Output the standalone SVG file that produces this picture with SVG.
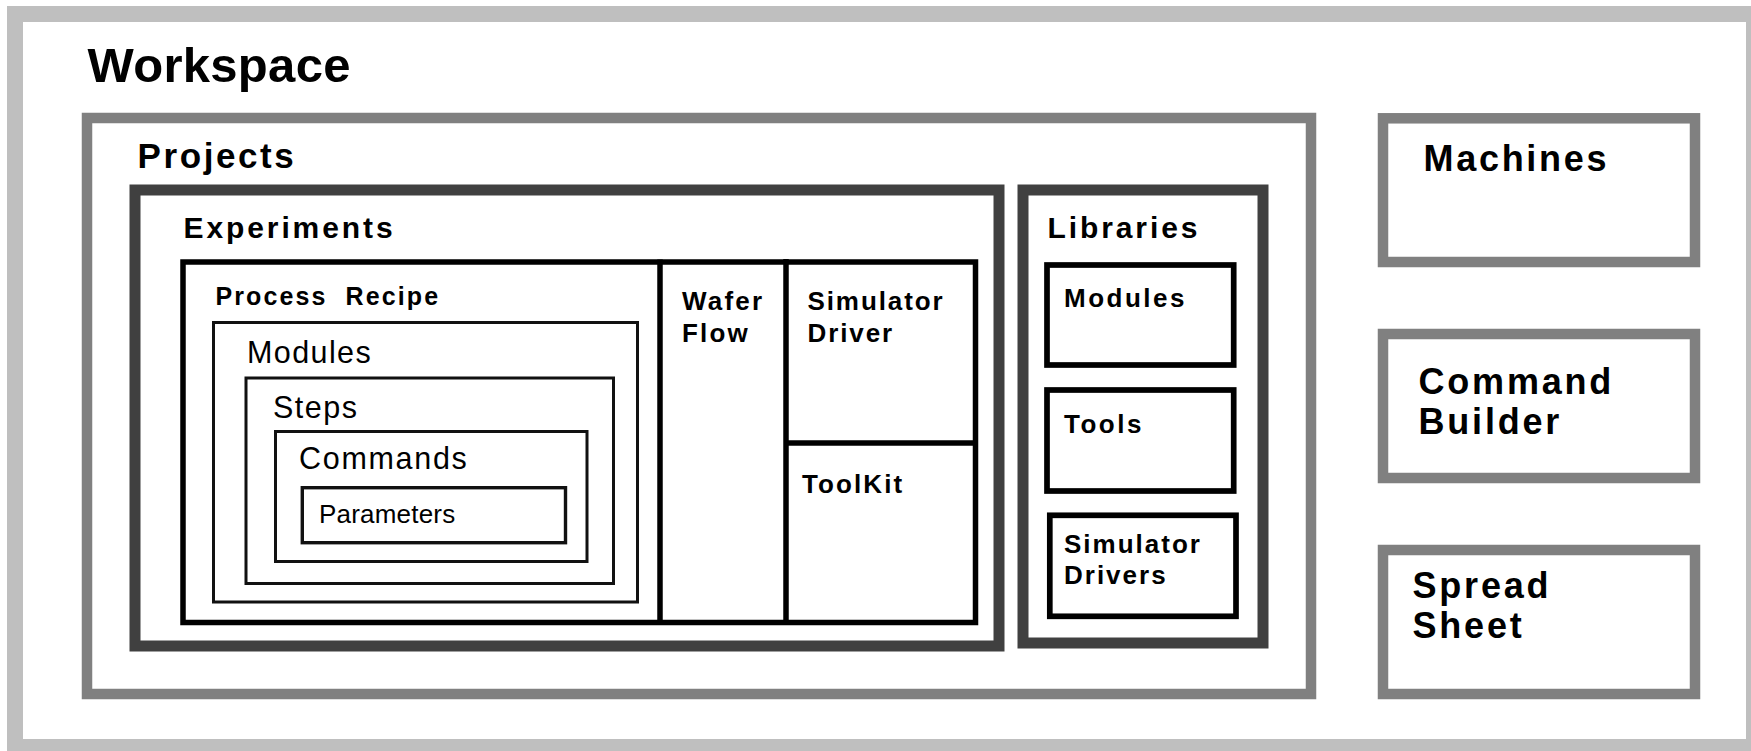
<svg xmlns="http://www.w3.org/2000/svg" width="1751" height="751" viewBox="0 0 1751 751">
<style>
  .b { font-family: "Liberation Sans", Arial, sans-serif; font-weight: bold; fill: #000; }
  .r { font-family: "Liberation Sans", Arial, sans-serif; font-weight: normal; fill: #000; }
  rect { fill: none; }
  .ws { stroke: #bfbfbf; stroke-width: 16; }
  .gr { stroke: #808080; stroke-width: 10.5; }
  .dk { stroke: #404040; stroke-width: 11; }
  .bk { stroke: #000; stroke-width: 5.5; }
  .th { stroke: #111; stroke-width: 3; }
  .dv { stroke: #000; stroke-width: 5.5; }
</style>
<rect x="0" y="0" width="1751" height="751" fill="#fff" style="fill:#fff"/>
<g id="workspace">
  <rect class="ws" x="15" y="14" width="1739" height="733"/>
  <text class="b" x="87.5" y="82" font-size="49" letter-spacing="0.3">Workspace</text>
</g>
<g id="projects">
  <rect class="gr" x="87" y="118" width="1224" height="576"/>
  <text class="b" x="137.5" y="168" font-size="35" letter-spacing="2.6">Projects</text>
</g>
<g id="experiments">
  <rect class="dk" x="135" y="190" width="864" height="456"/>
  <text class="b" x="183.5" y="238" font-size="30" letter-spacing="2.9">Experiments</text>
</g>
<g id="experiment-frame">
  <rect class="bk" x="183" y="262" width="792.5" height="360.5"/>
</g>
<g id="process-recipe">
  <text class="b" x="215.5" y="305" font-size="25" letter-spacing="2.1" xml:space="preserve">Process  Recipe</text>
</g>
<g id="modules">
  <rect class="th" x="213.5" y="322.5" width="424" height="279.5"/>
  <text class="r" x="247" y="363" font-size="30.5" letter-spacing="1.4">Modules</text>
</g>
<g id="steps">
  <rect class="th" x="246" y="378" width="367.5" height="205.5"/>
  <text class="r" x="273" y="418" font-size="30.5" letter-spacing="1.5">Steps</text>
</g>
<g id="commands">
  <rect class="th" x="275.5" y="431.5" width="311.5" height="130"/>
  <text class="r" x="299" y="469" font-size="30.5" letter-spacing="1.7">Commands</text>
</g>
<g id="parameters">
  <rect class="th" x="302.3" y="487.7" width="263.2" height="55" style="stroke-width:3.4"/>
  <text class="r" x="319" y="523" font-size="26" letter-spacing="0.2">Parameters</text>
</g>
<g id="wafer-flow">
  <text class="b" x="682" y="310" font-size="26" letter-spacing="2.2">Wafer</text>
  <text class="b" x="682" y="342" font-size="26" letter-spacing="2.2">Flow</text>
</g>
<g id="simulator-driver">
  <text class="b" x="807.5" y="310" font-size="26" letter-spacing="1.9">Simulator</text>
  <text class="b" x="807.5" y="342" font-size="26" letter-spacing="1.9">Driver</text>
</g>
<g id="toolkit">
  <text class="b" x="802" y="493" font-size="26" letter-spacing="2.1">ToolKit</text>
</g>
<g id="connectors">
  <line class="dv" x1="660" y1="259.5" x2="660" y2="625"/>
  <line class="dv" x1="786" y1="259" x2="786" y2="622"/>
  <line class="dv" x1="786" y1="443" x2="975" y2="443"/>
</g>
<g id="libraries">
  <rect class="dk" x="1023" y="190" width="240" height="453"/>
  <text class="b" x="1047.5" y="238" font-size="30" letter-spacing="2.9">Libraries</text>
</g>
<g id="lib-modules">
  <rect class="bk" x="1047" y="265" width="186.7" height="100" style="stroke-width:5.7"/>
  <text class="b" x="1064" y="307" font-size="26" letter-spacing="2.5">Modules</text>
</g>
<g id="lib-tools">
  <rect class="bk" x="1047" y="390" width="186.7" height="101" style="stroke-width:5.7"/>
  <text class="b" x="1064" y="433" font-size="26" letter-spacing="2.5">Tools</text>
</g>
<g id="lib-simulator-drivers">
  <rect class="bk" x="1049.8" y="515.3" width="186.2" height="101" style="stroke-width:5.7"/>
  <text class="b" x="1064" y="553" font-size="26" letter-spacing="2">Simulator</text>
  <text class="b" x="1064" y="584" font-size="26" letter-spacing="2">Drivers</text>
</g>
<g id="machines">
  <rect class="gr" x="1383" y="118.3" width="312" height="143.7"/>
  <text class="b" x="1423.5" y="171" font-size="36" letter-spacing="2.7">Machines</text>
</g>
<g id="command-builder">
  <rect class="gr" x="1383" y="334" width="312" height="144"/>
  <text class="b" x="1418.5" y="394" font-size="36" letter-spacing="2.8">Command</text>
  <text class="b" x="1418.5" y="434" font-size="36" letter-spacing="2.8">Builder</text>
</g>
<g id="spread-sheet">
  <rect class="gr" x="1383" y="550" width="312" height="144"/>
  <text class="b" x="1412.5" y="598" font-size="36" letter-spacing="2.8">Spread</text>
  <text class="b" x="1412.5" y="638" font-size="36" letter-spacing="2.8">Sheet</text>
</g>
</svg>
